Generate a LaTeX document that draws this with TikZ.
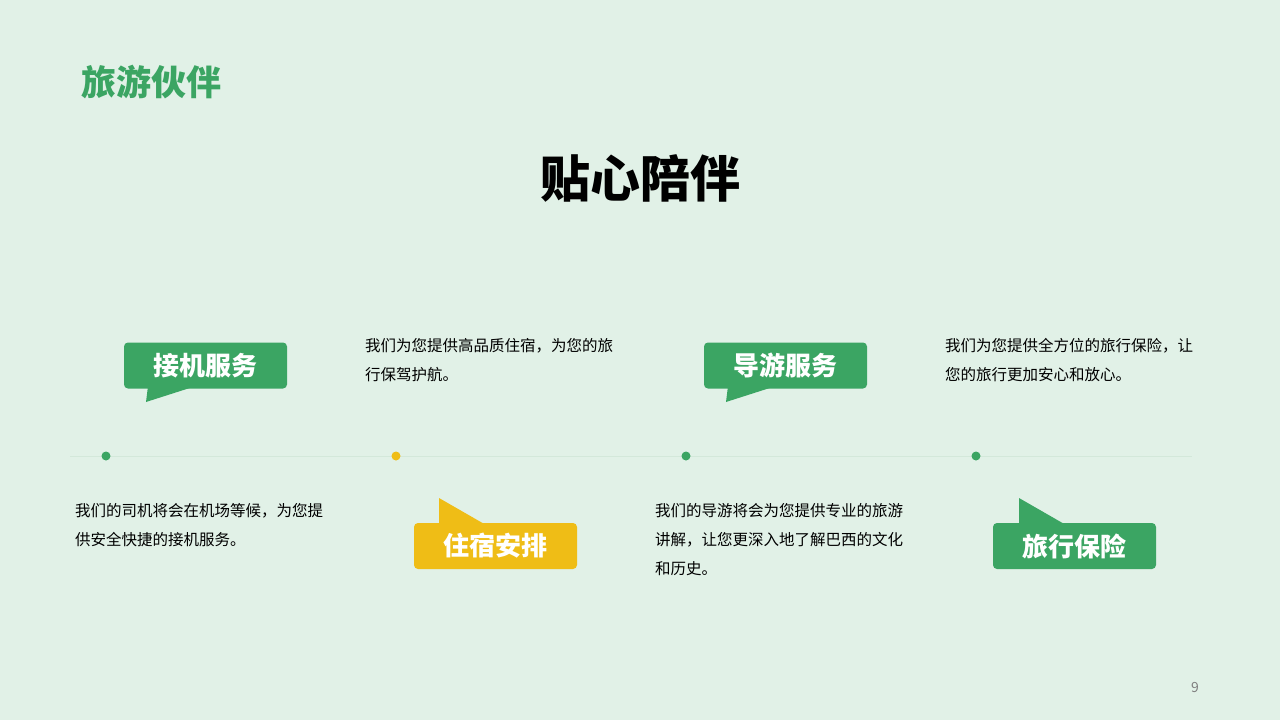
\documentclass[tikz,border=0pt]{standalone}
\usepackage{fontspec}
\setmainfont{Noto Sans CJK SC}
\definecolor{bg}{HTML}{E1F1E7}
\definecolor{gr}{HTML}{3BA563}
\definecolor{yl}{HTML}{EFBD16}
\definecolor{ln}{HTML}{D3E8DA}
\begin{document}
\begin{tikzpicture}[x=1pt,y=-1pt,
 box/.style={rounded corners=4pt,minimum width=163pt,minimum height=46pt,inner sep=0pt,text=white,font=\fontsize{26}{26}\selectfont\bfseries},
 desc/.style={anchor=north west,align=left,inner sep=0pt,font=\fontsize{15.5}{29}\selectfont},
 dot/.style={circle,inner sep=0pt,minimum size=9pt}]
\fill[bg] (0,0) rectangle (1280,720);
\useasboundingbox (0,0) rectangle (1280,720);
\node[anchor=west,text=gr,font=\fontsize{35}{35}\selectfont\bfseries] (t) at (78,82) {旅游伙伴};
\node[font=\fontsize{50}{50}\selectfont\bfseries] (h) at (640,178) {贴心陪伴};
\coordinate (l0) at (70,456); \coordinate (l1) at (1192,456);
\draw[ln,line width=1pt] (l0) -- (l1);
\node[dot,fill=gr] (d1) at (106,456) {};
\node[dot,fill=yl] (d2) at (396,456) {};
\node[dot,fill=gr] (d3) at (686,456) {};
\node[dot,fill=gr] (d4) at (976,456) {};
% tails
\fill[gr] (148,386) -- (146,402) -- (196,386) -- cycle;
\fill[gr] (728,386) -- (726,402) -- (776,386) -- cycle;
\fill[yl] (439,525) -- (439,498) -- (486,525) -- cycle;
\fill[gr] (1019,525) -- (1019,498) -- (1066,525) -- cycle;
\node[box,fill=gr] (b1) at (205.5,365.5) {接机服务};
\node[box,fill=yl] (b2) at (495.5,546) {住宿安排};
\node[box,fill=gr] (b3) at (785.5,365.5) {导游服务};
\node[box,fill=gr] (b4) at (1074.5,546) {旅行保险};
\node[desc] (x1) at (75,503) {我们的司机将会在机场等候，为您提\\供安全快捷的接机服务。};
\node[desc] (x2) at (365,338) {我们为您提供高品质住宿，为您的旅\\行保驾护航。};
\node[desc] (x3) at (655,503) {我们的导游将会为您提供专业的旅游\\讲解，让您更深入地了解巴西的文化\\和历史。};
\node[desc] (x4) at (945,338) {我们为您提供全方位的旅行保险，让\\您的旅行更加安心和放心。};
\node[text=gray,font=\fontsize{14}{14}\selectfont] (p) at (1195,688) {9};
\end{tikzpicture}
\end{document}
